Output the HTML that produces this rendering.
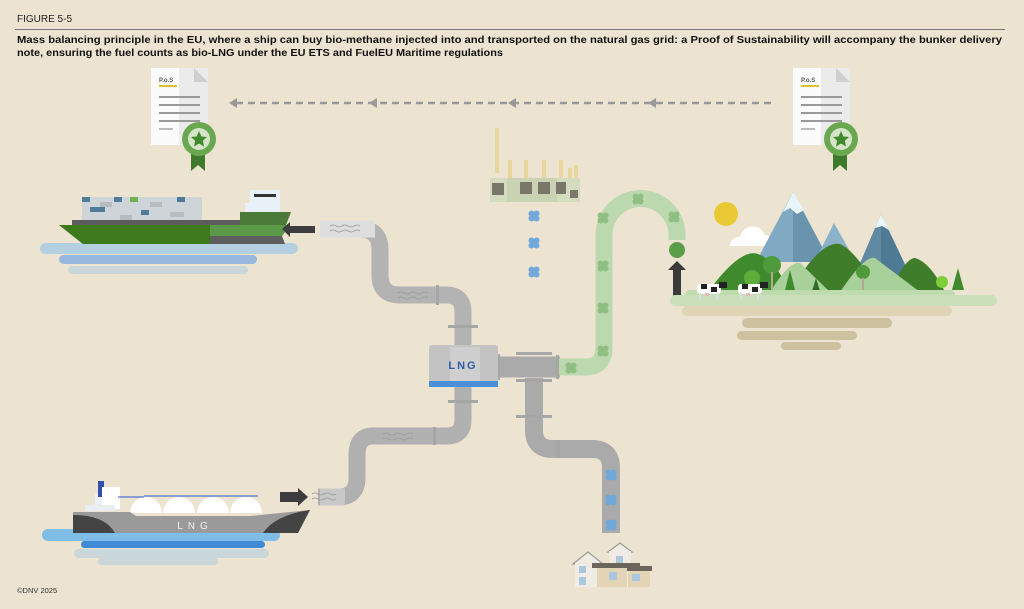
<!DOCTYPE html>
<html><head><meta charset="utf-8"><style>
html,body{margin:0;padding:0;background:#ede3d1;}
svg{display:block}
text{font-family:"Liberation Sans",sans-serif}
</style></head><body>
<svg width="1024" height="609" viewBox="0 0 1024 609" xmlns="http://www.w3.org/2000/svg">
<defs>
<linearGradient id="vg" x1="0" y1="0" x2="0" y2="1"><stop offset="0" stop-color="#e3ded4"/><stop offset="1" stop-color="#a9a9a9"/></linearGradient>
<linearGradient id="vg2" x1="0" y1="0" x2="0" y2="1"><stop offset="0" stop-color="#a9a9a9"/><stop offset="1" stop-color="#ddd8cf"/></linearGradient>
<g id="doc">
<path d="M0,0 H43 L57,14 V77 H0 Z" fill="#fbfbfb"/>
<rect x="28" y="0" width="29" height="77" fill="#ebebeb"/>
<path d="M43,0 L57,14 H43 Z" fill="#cfcfcf"/>
<text x="8" y="14" font-size="6" font-weight="bold" fill="#555">P.o.S</text>
<rect x="8" y="17" width="18" height="2" fill="#e2c12a"/>
<rect x="8" y="28" width="41" height="2" fill="#9a9a9a"/>
<rect x="8" y="36" width="41" height="2" fill="#9a9a9a"/>
<rect x="8" y="44" width="41" height="2" fill="#9a9a9a"/>
<rect x="8" y="52" width="41" height="2" fill="#9a9a9a"/>
<rect x="8" y="60" width="14" height="2" fill="#bbb"/>
<path d="M40,78 V103 L47,97 L54,103 V78 Z" fill="#3e7a2c"/>
<circle cx="48" cy="71" r="17" fill="#6aa84f"/>
<circle cx="48" cy="71" r="11" fill="#d6e4c8"/>
<polygon points="48,63 50.4,68.5 56,69 51.8,72.7 53,78.5 48,75.5 43,78.5 44.2,72.7 40,69 45.6,68.5" fill="#3e8a2c"/>
</g>
<g id="bub"><circle cx="0" cy="0" r="4" /><circle cx="2.5" cy="-2.5" r="3"/><circle cx="-2.5" cy="2.5" r="3"/><circle cx="2.5" cy="2.5" r="3"/><circle cx="-2.5" cy="-2.5" r="3"/></g>
<g id="cow"><rect x="0" y="0" width="24" height="10" rx="3" fill="#fff"/><rect x="4" y="0" width="6" height="5" fill="#222"/><rect x="14" y="3" width="6" height="5" fill="#222"/><rect x="22" y="-2" width="8" height="6" fill="#222"/><rect x="2" y="9" width="2" height="7" fill="#ddd"/><rect x="19" y="9" width="2" height="7" fill="#ddd"/><rect x="8" y="9" width="4" height="3" fill="#e7b7c2"/></g>
</defs>
<rect width="1024" height="609" fill="#ede3d1"/>
<text x="17" y="22" font-size="10" fill="#222">FIGURE 5-5</text>
<rect x="15" y="29" width="990" height="1" fill="#777"/>
<text x="17" y="43" font-size="10" font-weight="bold" fill="#111" textLength="985" lengthAdjust="spacingAndGlyphs">Mass balancing principle in the EU, where a ship can buy bio-methane injected into and transported on the natural gas grid: a Proof of Sustainability will accompany the bunker delivery</text>
<text x="17" y="56" font-size="10" font-weight="bold" fill="#111" textLength="486" lengthAdjust="spacingAndGlyphs">note, ensuring the fuel counts as bio-LNG under the EU ETS and FuelEU Maritime regulations</text>

<use href="#doc" x="151" y="68"/>
<use href="#doc" x="793" y="68"/>
<line x1="236" y1="103" x2="775" y2="103" stroke="#999" stroke-width="2.5" stroke-dasharray="7,5"/>
<g fill="#999"><polygon points="229,103 237,98 237,108"/><polygon points="369,103 377,98 377,108"/><polygon points="508,103 516,98 516,108"/><polygon points="648,103 656,98 656,108"/></g>

<!-- factory -->
<g>
<rect x="495" y="128" width="4" height="45" fill="#e8d79a"/>
<rect x="508" y="160" width="4" height="18" fill="#e8d79a"/><rect x="524" y="160" width="4" height="18" fill="#e8d79a"/><rect x="542" y="160" width="4" height="18" fill="#e8d79a"/><rect x="559" y="160" width="4" height="18" fill="#e8d79a"/><rect x="568" y="168" width="4" height="12" fill="#e8d79a"/><rect x="574" y="165" width="4" height="15" fill="#e8d79a"/>
<rect x="490" y="178" width="90" height="24" fill="#d4dcc0"/>
<rect x="507" y="178" width="50" height="24" fill="#c9d3b3"/>
<g fill="#7b766a"><rect x="492" y="183" width="12" height="12"/><rect x="520" y="182" width="12" height="12"/><rect x="538" y="182" width="12" height="12"/><rect x="556" y="182" width="10" height="12"/><rect x="570" y="190" width="8" height="8"/></g>
</g>

<!-- pipes -->
<g fill="none" stroke-width="17">
<path d="M320,229 H360 Q380,229 380,250 V275 Q380,295 400,295 H446 Q463,295 463,312 V345" stroke="#b3b3b3"/>
<path d="M320,229 H375" stroke="#dedede"/>
<path d="M463,387 V420 Q463,436 446,436 H373 Q357,436 357,455 V478 Q357,497 338,497 H318" stroke="#b0b0b0"/>
<path d="M320,497 H345" stroke="#c8c8c8"/>
<path d="M534,210 V357" stroke="url(#vg)" stroke-width="18"/>
<path d="M534,378 V430 Q534,449 553,449 H592 Q611,449 611,468 V533" stroke="#aaa" stroke-width="18"/>
<path d="M611,470 V533" stroke="url(#vg2)" stroke-width="18"/>
<path d="M498,367 H560" stroke="#aaa" stroke-width="21"/>
<path d="M556,367 H585 Q604,367 604,348 V235 A36.5,36.5 0 0 1 677,235 V240" stroke="#bcd8ae" stroke-width="17"/>
</g>
<g fill="#a6a6a6"><rect x="516" y="352" width="36" height="3"/><rect x="516" y="379" width="36" height="3"/><rect x="556" y="355" width="3" height="24"/><rect x="497" y="354" width="3" height="26"/><rect x="448" y="325" width="30" height="3"/><rect x="448" y="400" width="30" height="3"/><rect x="436" y="285" width="3" height="20"/><rect x="433" y="427" width="3" height="18"/><rect x="557" y="440" width="3" height="18"/><rect x="516" y="415" width="36" height="3"/></g>
<g stroke="#999" stroke-width="0.8" fill="none">
<path d="M330,226 q3,-2 6,0 t6,0 t6,0 t6,0 t6,0 M330,231 q3,-2 6,0 t6,0 t6,0 t6,0 t6,0"/>
<path d="M398,293 q3,-2 6,0 t6,0 t6,0 t6,0 t6,0 M398,298 q3,-2 6,0 t6,0 t6,0 t6,0 t6,0"/>
<path d="M383,434 q3,-2 6,0 t6,0 t6,0 t6,0 t6,0 M383,439 q3,-2 6,0 t6,0 t6,0 t6,0 t6,0"/>
<path d="M312,494 q3,-2 6,0 t6,0 t6,0 t6,0 M312,499 q3,-2 6,0 t6,0 t6,0 t6,0"/>
</g>
<!-- LNG tank -->
<rect x="429" y="345" width="69" height="40" rx="3" fill="#c3c3c3"/>
<rect x="450" y="347" width="30" height="36" fill="#cfcfcf"/>
<rect x="429" y="381" width="69" height="6" fill="#4a90d9"/>
<text x="463" y="369" font-size="11" font-weight="bold" fill="#2e5aa8" text-anchor="middle" letter-spacing="2">LNG</text>
<!-- bubbles -->
<g fill="#6ea9d9"><use href="#bub" x="534" y="216"/><use href="#bub" x="534" y="243"/><use href="#bub" x="534" y="272"/><use href="#bub" x="611" y="475"/><use href="#bub" x="611" y="500"/><use href="#bub" x="611" y="525"/></g>
<g fill="#8fbf83"><use href="#bub" x="571" y="368"/><use href="#bub" x="603" y="351"/><use href="#bub" x="603" y="308"/><use href="#bub" x="603" y="266"/><use href="#bub" x="603" y="218"/><use href="#bub" x="638" y="199"/><use href="#bub" x="674" y="217"/></g>
<g fill="#5a9e4a"><circle cx="677" cy="250" r="8"/></g>
<rect x="673" y="268" width="8" height="28" fill="#3a3a3a"/><polygon points="668,270 677,261 686,270" fill="#3a3a3a"/>

<!-- container ship -->
<rect x="40" y="243" width="258" height="11" rx="5.5" fill="#b3cfe0"/>
<rect x="59" y="255" width="198" height="9" rx="4.5" fill="#98b9dd"/>
<rect x="68" y="266" width="180" height="8" rx="4" fill="#c9d6da"/>
<rect x="82" y="197" width="120" height="23" fill="#cfd4d8"/>
<g fill="#4e7d99"><rect x="82" y="197" width="8" height="5"/><rect x="114" y="197" width="8" height="5"/><rect x="177" y="197" width="8" height="5"/><rect x="90" y="207" width="15" height="5"/><rect x="141" y="210" width="8" height="5"/></g>
<rect x="130" y="197" width="8" height="5" fill="#6db350"/>
<g fill="#b7bcc0"><rect x="100" y="202" width="12" height="5"/><rect x="150" y="202" width="12" height="5"/><rect x="170" y="212" width="14" height="5"/><rect x="120" y="215" width="12" height="5"/></g>
<rect x="72" y="220" width="210" height="5" fill="#5c5c5c"/>
<path d="M59,225 H290 L282,236 L285,244 H83 Z" fill="#5e5e5e"/>
<path d="M59,225 H210 V244 H83 Z" fill="#3d7a1e"/>
<path d="M210,225 V236 H282 L290,225 Z" fill="#5b9948"/>
<path d="M240,212 H291 L286,225 H240 Z" fill="#4b7a38"/>
<rect x="250" y="190" width="30" height="20" fill="#e9f1f8"/>
<rect x="245" y="203" width="35" height="9" fill="#e9f1f8"/>
<rect x="254" y="194" width="22" height="3" fill="#333"/>
<path d="M282,229 L290,222 V226 H315 V233 H290 V237 Z" fill="#3d3d3d"/>

<!-- LNG carrier -->
<rect x="42" y="529" width="238" height="12" rx="6" fill="#80bde6"/>
<rect x="81" y="541" width="184" height="7" rx="3.5" fill="#3f8ad4"/>
<rect x="74" y="549" width="195" height="9" rx="4.5" fill="#c9d6da"/>
<rect x="98" y="558" width="120" height="7" rx="3.5" fill="#c9d6da"/>
<rect x="95" y="494" width="22" height="16" fill="#e9f0f6"/>
<rect x="98" y="481" width="6" height="16" fill="#3550a8"/>
<rect x="102" y="487" width="18" height="22" fill="#fff"/>
<rect x="85" y="505" width="30" height="6" fill="#e9eef3"/>
<g fill="#fff"><path d="M130,513 a16,16 0 0 1 32,0 Z"/><path d="M163,513 a16,16 0 0 1 32,0 Z"/><path d="M197,513 a16,16 0 0 1 32,0 Z"/><path d="M230,513 a16,16 0 0 1 32,0 Z"/></g>
<line x1="144" y1="496" x2="258" y2="496" stroke="#4b74d0" stroke-width="1.3"/>
<line x1="118" y1="497" x2="144" y2="497" stroke="#4b74d0" stroke-width="1.3"/>
<path d="M73,512 H130 L136,516 H250 L310,510 L298,533 H73 Z" fill="#9a9a9a"/>
<path d="M73,515 Q105,515 115,533 H73 Z" fill="#444"/>
<path d="M310,510 Q275,515 263,533 H298 Z" fill="#444"/>
<text x="195" y="529" font-size="10" fill="#f2f2f2" text-anchor="middle" letter-spacing="5">LNG</text>
<path d="M280,492 H298 V488 L308,497 L298,506 V502 H280 Z" fill="#3d3d3d"/>

<!-- landscape -->
<rect x="682" y="306" width="270" height="10" rx="5" fill="#e0d3b6"/>
<rect x="742" y="318" width="150" height="10" rx="5" fill="#cdc1a0"/>
<rect x="737" y="331" width="120" height="9" rx="4.5" fill="#cdc1a0"/>
<rect x="781" y="342" width="60" height="8" rx="4" fill="#cdc1a0"/>
<circle cx="726" cy="214" r="12" fill="#e9c935"/>
<path d="M730,246 a9,9 0 0 1 10,-9 a13,13 0 0 1 25,-2 a8,8 0 0 1 7,11 Z" fill="#fff"/>
<polygon points="756,262 793,192 830,262" fill="#80a9c2"/>
<polygon points="793,192 830,262 793,262" fill="#6a94ae"/>
<polygon points="793,192 783,212 790,208 797,214 804,210" fill="#e8f6fa"/>
<polygon points="818,255 834,223 852,255" fill="#8bb2c8"/>
<polygon points="855,275 881,214 910,275" fill="#5f8aa2"/>
<polygon points="881,214 910,275 881,275" fill="#4f7a93"/>
<polygon points="881,214 875,228 882,226 889,230" fill="#e8f6fa"/>
<path d="M708,292 Q740,248 758,254 Q775,260 790,292 Z" fill="#3f8a2c"/>
<path d="M790,292 Q820,240 840,244 Q855,250 880,292 Z" fill="#3f7d2a"/>
<path d="M890,292 Q905,258 915,258 Q930,262 945,292 Z" fill="#3f7d2a"/>
<path d="M770,292 Q790,260 800,263 L830,292 Z" fill="#a8d09a"/>
<path d="M840,292 Q865,255 875,258 L920,292 Z" fill="#a8d09a"/>
<circle cx="772" cy="265" r="9" fill="#4e9a3c"/><rect x="771" y="272" width="2" height="18" fill="#b4a890"/>
<circle cx="752" cy="278" r="8" fill="#5fae3c"/>
<circle cx="863" cy="272" r="7" fill="#4e9a3c"/><rect x="862" y="278" width="2" height="12" fill="#b4a890"/>
<circle cx="942" cy="282" r="6" fill="#7dcf3a"/>
<polygon points="952,290 958,268 964,290" fill="#3e8a2c"/>
<polygon points="810,298 816,278 822,298" fill="#2e6e24"/>
<polygon points="785,290 790,270 795,290" fill="#3e8a2c"/>
<rect x="685" y="290" width="270" height="10" rx="5" fill="#bddbad"/>
<rect x="670" y="295" width="327" height="11" rx="5.5" fill="#c9e0bb"/>
<use href="#cow" x="697" y="284"/>
<use href="#cow" x="738" y="284"/>

<!-- houses -->
<polygon points="573,564 588,552 603,564" fill="#f0ece4" stroke="#999" stroke-width="1.2"/>
<rect x="575" y="563" width="27" height="24" fill="#f0ece4"/>
<polygon points="608,552 620,543 632,552" fill="#f0ece4" stroke="#999" stroke-width="1.2"/>
<rect x="609" y="551" width="22" height="36" fill="#f0ece4"/>
<rect x="592" y="563" width="48" height="5" fill="#6b655b"/>
<rect x="626" y="566" width="26" height="5" fill="#6b655b"/>
<rect x="597" y="568" width="30" height="19" fill="#e2d4b5"/>
<rect x="628" y="571" width="22" height="16" fill="#e2d4b5"/>
<g fill="#aac7de"><rect x="579" y="566" width="7" height="7"/><rect x="579" y="577" width="7" height="8"/><rect x="616" y="556" width="7" height="7"/><rect x="609" y="572" width="8" height="8"/><rect x="632" y="574" width="8" height="7"/></g>
<text x="17" y="593" font-size="7.5" fill="#333">©DNV 2025</text>
</svg>
</body></html>
